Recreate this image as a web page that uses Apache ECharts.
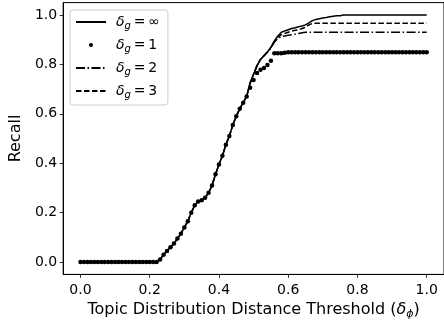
<!DOCTYPE html>
<html>
<head>
<meta charset="utf-8">
<script src="https://cdn.jsdelivr.net/npm/echarts@6/dist/echarts.min.js"></script>
<style>html,body{margin:0;padding:0;background:#fff;}#c{width:444px;height:325px;}</style>
</head>
<body>
<div id="c"></div>
<script>
var thresholds = [0.00,0.01,0.02,0.03,0.04,0.05,0.06,0.07,0.08,0.09,
  0.10,0.11,0.12,0.13,0.14,0.15,0.16,0.17,0.18,0.19,
  0.20,0.21,0.22,0.23,0.24,0.25,0.26,0.27,0.28,0.29,
  0.30,0.31,0.32,0.33,0.34,0.35,0.36,0.37,0.38,0.39,
  0.40,0.41,0.42,0.43,0.44,0.45,0.46,0.47,0.48,0.49,
  0.50,0.51,0.52,0.53,0.54,0.55,0.56,0.57,0.58,0.59,
  0.60,0.61,0.62,0.63,0.64,0.65,0.66,0.67,0.68,0.69,
  0.70,0.71,0.72,0.73,0.74,0.75,0.76,0.77,0.78,0.79,
  0.80,0.81,0.82,0.83,0.84,0.85,0.86,0.87,0.88,0.89,
  0.90,0.91,0.92,0.93,0.94,0.95,0.96,0.97,0.98,0.99,1.00];

var recallInf = [0,0,0,0,0,0,0,0,0,0,
  0,0,0,0,0,0,0,0,0,0,
  0,0,0,0.01,0.03,0.045,0.06,0.075,0.095,0.115,
  0.14,0.165,0.2,0.23,0.245,0.25,0.26,0.28,0.31,0.355,
  0.395,0.43,0.475,0.51,0.555,0.59,0.62,0.645,0.67,0.725,
  0.76,0.795,0.82,0.835,0.85,0.87,0.895,0.915,0.93,0.935,
  0.94,0.945,0.948,0.952,0.955,0.96,0.968,0.977,0.982,0.985,
  0.988,0.99,0.993,0.995,0.997,0.997,1,1,1,1,
  1,1,1,1,1,1,1,1,1,1,
  1,1,1,1,1,1,1,1,1,1,1];

var recall1 = [0,0,0,0,0,0,0,0,0,0,
  0,0,0,0,0,0,0,0,0,0,
  0,0,0,0.01,0.03,0.045,0.06,0.075,0.095,0.115,
  0.14,0.165,0.2,0.23,0.245,0.25,0.26,0.28,0.31,0.355,
  0.395,0.43,0.475,0.51,0.555,0.59,0.62,0.645,0.67,0.705,
  0.737,0.765,0.778,0.785,0.797,0.815,0.845,0.845,0.845,0.847,
  0.849,0.849,0.849,0.849,0.849,0.849,0.849,0.849,0.849,0.849,
  0.849,0.849,0.849,0.849,0.849,0.849,0.849,0.849,0.849,0.849,
  0.849,0.849,0.849,0.849,0.849,0.849,0.849,0.849,0.849,0.849,
  0.849,0.849,0.849,0.849,0.849,0.849,0.849,0.849,0.849,0.849,0.849];

var recall2 = [0,0,0,0,0,0,0,0,0,0,
  0,0,0,0,0,0,0,0,0,0,
  0,0,0,0.01,0.03,0.045,0.06,0.075,0.095,0.115,
  0.14,0.165,0.2,0.23,0.245,0.25,0.26,0.28,0.31,0.355,
  0.395,0.43,0.475,0.51,0.555,0.59,0.62,0.645,0.67,0.725,
  0.76,0.795,0.82,0.835,0.85,0.865,0.89,0.905,0.912,0.915,
  0.918,0.92,0.922,0.925,0.928,0.93,0.93,0.93,0.93,0.93,
  0.93,0.93,0.93,0.93,0.93,0.93,0.93,0.93,0.93,0.93,
  0.93,0.93,0.93,0.93,0.93,0.93,0.93,0.93,0.93,0.93,
  0.93,0.93,0.93,0.93,0.93,0.93,0.93,0.93,0.93,0.93,0.93];

var recall3 = [0,0,0,0,0,0,0,0,0,0,
  0,0,0,0,0,0,0,0,0,0,
  0,0,0,0.01,0.03,0.045,0.06,0.075,0.095,0.115,
  0.14,0.165,0.2,0.23,0.245,0.25,0.26,0.28,0.31,0.355,
  0.395,0.43,0.475,0.51,0.555,0.59,0.62,0.645,0.67,0.725,
  0.76,0.795,0.82,0.835,0.85,0.868,0.893,0.91,0.92,0.925,
  0.93,0.935,0.938,0.94,0.945,0.95,0.96,0.966,0.966,0.966,
  0.966,0.966,0.966,0.966,0.966,0.966,0.966,0.966,0.966,0.966,
  0.966,0.966,0.966,0.966,0.966,0.966,0.966,0.966,0.966,0.966,
  0.966,0.966,0.966,0.966,0.966,0.966,0.966,0.966,0.966,0.966,0.966];

var tickValues = [0, 0.2, 0.4, 0.6, 0.8, 1.0];
var tickLabels = ['0.0', '0.2', '0.4', '0.6', '0.8', '1.0'];
var seriesNames = ['inf', 'one', 'two', 'three'];
var legendLabels = {inf: '∞', one: '1', two: '2', three: '3'};

function pairs(ys) { return thresholds.map(function (x, i) { return [x, ys[i]]; }); }
function fmt(v) { var i = tickValues.indexOf(Math.round(v * 10) / 10); return i >= 0 ? tickLabels[i] : ''; }

var FONT = 'DejaVu Sans';
var chart = echarts.init(document.getElementById('c'), null, {renderer: 'canvas'});
chart.setOption({
  animation: false,
  backgroundColor: '#ffffff',
  textStyle: {fontFamily: FONT, color: '#000'},
  grid: {left: 62.5, top: 2.6, width: 385, height: 271.8, show: true, borderColor: '#000', borderWidth: 1, backgroundColor: 'transparent'},
  xAxis: {
    type: 'value', min: -0.05, max: 1.05,
    name: 'Topic Distribution Distance Threshold ({d|δ}{s|ϕ})',
    nameLocation: 'middle', nameGap: 25,
    nameTextStyle: {fontFamily: FONT, fontSize: 16, color: '#000',
      rich: {d: {fontFamily: FONT, fontSize: 16, fontStyle: 'italic', color: '#000'},
             s: {fontFamily: FONT, fontSize: 11, fontStyle: 'italic', color: '#000', padding: [8, 0, 0, 0]}}},
    axisLine: {show: true, onZero: false, lineStyle: {color: '#000', width: 1}},
    axisTick: {show: true, inside: false, length: 3.5, lineStyle: {color: '#000', width: 0.8}, customValues: tickValues},
    axisLabel: {fontFamily: FONT, fontSize: 14, color: '#000', margin: 8.5, customValues: tickValues, formatter: fmt},
    splitLine: {show: false}
  },
  yAxis: {
    type: 'value', min: -0.05, max: 1.05,
    name: 'Recall', nameLocation: 'middle', nameGap: 30, nameRotate: 90,
    nameTextStyle: {fontFamily: FONT, fontSize: 16, color: '#000'},
    axisLine: {show: true, onZero: false, lineStyle: {color: '#000', width: 1}},
    axisTick: {show: true, inside: false, length: 3.5, lineStyle: {color: '#000', width: 0.8}, customValues: tickValues},
    axisLabel: {fontFamily: FONT, fontSize: 14, color: '#000', margin: 6, customValues: tickValues, formatter: fmt},
    splitLine: {show: false}
  },
  legend: {
    orient: 'vertical', left: 70, top: 10,
    padding: [5, 8, 5, 5], itemGap: 7, itemWidth: 30, itemHeight: 5,
    backgroundColor: 'rgba(255,255,255,0.8)', borderColor: '#cccccc', borderWidth: 1, borderRadius: 3,
    data: [
      {name: 'inf', itemStyle: {opacity: 0}},
      {name: 'one'},
      {name: 'two', itemStyle: {opacity: 0}},
      {name: 'three', itemStyle: {opacity: 0}}
    ],
    formatter: function (n) { return '{d|δ}{s|g}{t|\u2009=\u2009' + legendLabels[n] + '}'; },
    textStyle: {fontFamily: FONT, fontSize: 14, color: '#000',
      rich: {d: {fontFamily: FONT, fontSize: 14, fontStyle: 'italic', color: '#000', padding: [0, 0, 0, 5]},
             s: {fontFamily: FONT, fontSize: 10, fontStyle: 'italic', color: '#000', padding: [8, 0, 0, 0]},
             t: {fontFamily: FONT, fontSize: 14, color: '#000'}}}
  },
  series: [
    {name: 'inf', type: 'line', data: pairs(recallInf), symbol: 'none', z: 2,
     lineStyle: {color: '#000', width: 1.5, type: 'solid'}, itemStyle: {color: '#000'}},
    {name: 'one', type: 'line', data: pairs(recall1), symbol: 'circle', symbolSize: 4.5, showSymbol: true, z: 3,
     lineStyle: {color: '#000', width: 0, opacity: 0}, itemStyle: {color: '#000'}},
    {name: 'two', type: 'line', data: pairs(recall2), symbol: 'none', z: 4,
     lineStyle: {color: '#000', width: 1.5, type: [9, 2.5, 1.5, 2.5]}, itemStyle: {color: '#000'}},
    {name: 'three', type: 'line', data: pairs(recall3), symbol: 'none', z: 5,
     lineStyle: {color: '#000', width: 1.5, type: [5.5, 2.5]}, itemStyle: {color: '#000'}}
  ]
});
</script>
</body>
</html>
